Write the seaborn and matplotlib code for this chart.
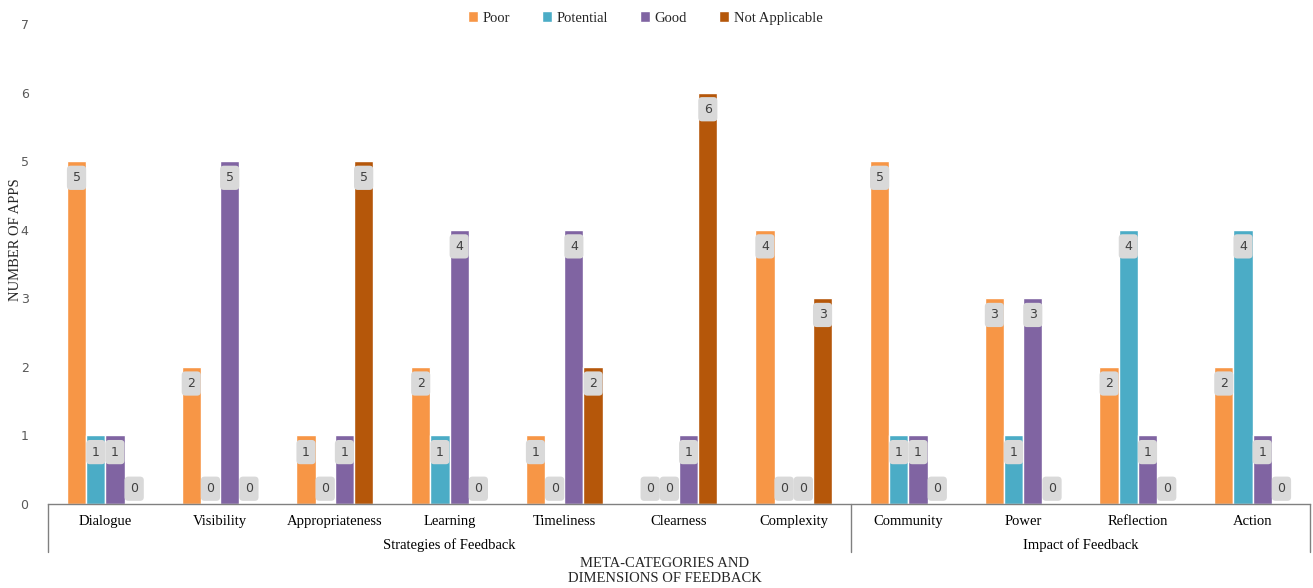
import matplotlib
matplotlib.use("Agg")
import matplotlib.pyplot as plt
import seaborn as sns
import pandas as pd

categories = ["Dialogue", "Visibility", "Appropriateness", "Learning", "Timeliness",
              "Clearness", "Complexity", "Community", "Power", "Reflection", "Action"]
poor = [5, 2, 1, 2, 1, 0, 4, 5, 3, 2, 2]
potential = [1, 0, 0, 1, 0, 0, 0, 1, 1, 4, 4]
good = [1, 5, 1, 4, 4, 1, 0, 1, 3, 1, 1]
not_applicable = [0, 0, 5, 0, 2, 6, 3, 0, 0, 0, 0]
series_names = ["Poor", "Potential", "Good", "Not Applicable"]
groups = [("Strategies of Feedback", 7), ("Impact of Feedback", 4)]
y_ticks = [0, 1, 2, 3, 4, 5, 6, 7]

palette = ["#F79646", "#4BACC6", "#8064A2", "#B5570A"]

rows = []
for name, vals in zip(series_names, [poor, potential, good, not_applicable]):
    for cat, v in zip(categories, vals):
        rows.append({"category": cat, "series": name, "value": v})
df = pd.DataFrame(rows)

sns.set_theme(style="white")
plt.rcParams["font.family"] = ["Liberation Serif", "DejaVu Serif"]

fig = plt.figure(figsize=(13.13, 5.88), dpi=100)
ax = fig.add_axes([48 / 1313, 1 - 504 / 588, (1310 - 48) / 1313, (504 - 24) / 588])

sns.barplot(data=df, x="category", y="value", hue="series", order=categories,
            hue_order=series_names, palette=palette, width=0.67, saturation=1,
            ax=ax, legend=True, errorbar=None)

# value labels in grey rounded boxes: inside the bar top, or just above the
# baseline for empty bars
for container, vals in zip(ax.containers, [poor, potential, good, not_applicable]):
    for patch, v in zip(container.patches, vals):
        x = patch.get_x() + patch.get_width() / 2
        dy = 11 if v == 0 else -12
        ax.annotate(f"{v}", xy=(x, v), xytext=(0, dy), textcoords="offset points",
                    ha="center", va="center", fontsize=9, color="#404040",
                    family="DejaVu Sans",
                    bbox=dict(boxstyle="round,pad=0.45,rounding_size=0.3",
                              fc="#D9D9D9", ec="none"))

ax.set_ylim(0, 7)
ax.set_xlim(-0.5, len(categories) - 0.5)
ax.set_yticks(y_ticks)
ax.set_yticklabels([str(t) for t in y_ticks], family="DejaVu Sans", fontsize=9,
                   color="#595959")
ax.tick_params(axis="y", length=0, pad=14)
ax.tick_params(axis="x", length=0, pad=8, labelsize=10.5, colors="#000000")
ax.set_xlabel("")
ax.set_ylabel("")
for s in ["top", "right", "left"]:
    ax.spines[s].set_visible(False)
ax.spines["bottom"].set_color("#808080")
ax.spines["bottom"].set_linewidth(1)

# group separators and group labels below the category axis
trans = ax.get_xaxis_transform()
start = -0.5
bounds = [start]
for gname, n in groups:
    end = start + n
    ax.text((start + end) / 2, -0.085, gname, transform=trans, ha="center",
            va="center", fontsize=10.5, color="#000000")
    start = end
    bounds.append(end)
for b in bounds:
    ax.plot([b, b], [0, -0.1], transform=trans, color="#808080", lw=1,
            clip_on=False)

fig.text(665 / 1313, 1 - 571 / 588, "META-CATEGORIES AND\nDIMENSIONS OF FEEDBACK",
         ha="center", va="center", fontsize=10.5, linespacing=1.15)
fig.text(16 / 1313, 1 - 240 / 588, "NUMBER OF APPS", rotation=90, ha="center",
         va="center", fontsize=10.5)

leg = ax.legend(loc="center", bbox_to_anchor=(645 / 1313, 1 - 18 / 588),
                bbox_transform=fig.transFigure, ncol=4, frameon=False,
                fontsize=10.5, handlelength=0.7, handleheight=0.7,
                handletextpad=0.3, columnspacing=2.2)

fig.savefig("out.png", dpi=100)
